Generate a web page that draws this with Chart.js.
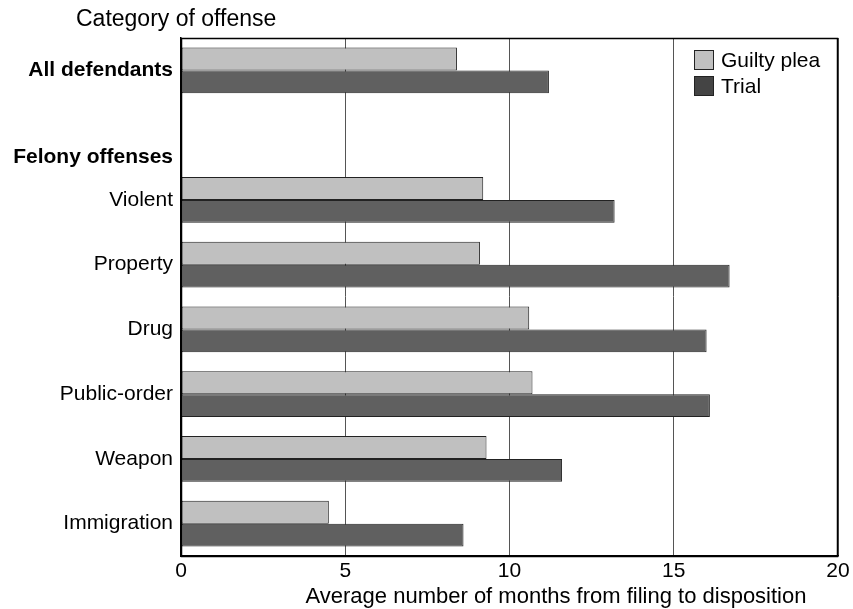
<!DOCTYPE html>
<html lang="en">
<head>
<meta charset="UTF-8">
<title>Months from filing to disposition</title>
<script src="https://cdn.jsdelivr.net/npm/chart.js"></script>
<style>
  body { margin: 0; background: #fff; }
</style>
</head>
<body>
<canvas id="chart" width="853" height="609"></canvas>
<script>
const categories = ['All defendants', ['', 'Felony offenses'], 'Violent', 'Property', 'Drug', 'Public-order', 'Weapon', 'Immigration'];
const guiltyPlea = [8.4, null, 9.2, 9.1, 10.6, 10.7, 9.3, 4.5];
const trial = [11.2, null, 13.2, 16.7, 16.0, 16.1, 11.6, 8.6];
const xTicks = [0, 5, 10, 15, 20];

const FONT = "'Liberation Sans', Arial, sans-serif";
Chart.defaults.font.family = FONT;
Chart.defaults.font.size = 21;
Chart.defaults.color = '#000';

// frame round the plot, legend inside it, the two titles
const extras = {
  id: 'extras',
  afterDraw(chart) {
    const { ctx, chartArea: a } = chart;
    ctx.save();
    ctx.strokeStyle = '#000';
    ctx.lineWidth = 1.5;
    ctx.strokeRect(Math.round(a.left) + 0.5, Math.round(a.top) + 0.5, Math.round(a.right - a.left) - 1, Math.round(a.bottom - a.top));

    ctx.font = '21px ' + FONT;
    ctx.textBaseline = 'middle';
    chart.data.datasets.forEach((ds, i) => {
      const x = a.right - 144, y = a.top + 12 + i * 26;
      ctx.fillStyle = ds.legendColor;
      ctx.fillRect(x, y, 20, 20);
      ctx.lineWidth = 1;
      ctx.strokeStyle = '#222';
      ctx.strokeRect(x + 0.5, y + 0.5, 19, 19);
      ctx.fillStyle = '#000';
      ctx.fillText(ds.label, x + 27, y + 11);
    });

    ctx.textBaseline = 'alphabetic';
    ctx.font = '23px ' + FONT;
    ctx.fillText('Category of offense', 76, 26);
    ctx.textAlign = 'center';
    ctx.font = '22px ' + FONT;
    ctx.fillText('Average number of months from filing to disposition', 556, 603);
    ctx.restore();
  }
};

new Chart(document.getElementById('chart'), {
  type: 'bar',
  data: {
    labels: categories,
    datasets: [
      { label: 'Guilty plea', data: guiltyPlea, backgroundColor: '#c0c0c0', legendColor: '#c0c0c0' },
      { label: 'Trial', data: trial, backgroundColor: '#606060', legendColor: '#444444' }
    ]
  },
  options: {
    indexAxis: 'y',
    responsive: false,
    animation: false,
    layout: { padding: { left: 10, right: 15, top: 38, bottom: 0 } },
    datasets: {
      bar: {
        borderColor: '#222',
        borderWidth: 1,
        borderSkipped: false,
        barPercentage: 1,
        categoryPercentage: 0.705
      }
    },
    plugins: {
      legend: { display: false },
      tooltip: { enabled: false }
    },
    scales: {
      x: {
        min: xTicks[0],
        max: xTicks[xTicks.length - 1],
        afterFit: s => { s.height = 53; },
        afterBuildTicks: s => { s.ticks = xTicks.map(v => ({ value: v })); },
        ticks: { padding: 3 },
        grid: { color: '#555', lineWidth: 1, drawTicks: false },
        border: { color: '#000', width: 1.5 }
      },
      y: {
        afterFit: s => { s.width = 171; },
        ticks: {
          autoSkip: false,
          padding: 8,
          font: c => ({
            size: 21,
            weight: c.index < 2 ? 'bold' : 'normal',
            lineHeight: c.index === 1 ? 2.1 : 1.2
          })
        },
        grid: { display: false, drawTicks: false },
        border: { color: '#000', width: 1.5 }
      }
    }
  },
  plugins: [extras]
});
</script>
</body>
</html>
